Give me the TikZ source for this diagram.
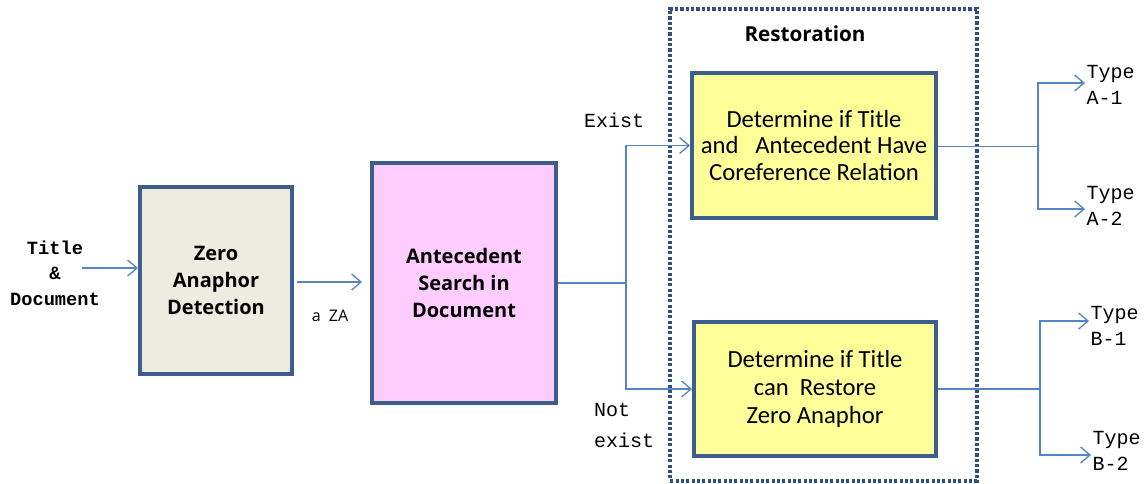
\documentclass[tikz,border=0pt]{standalone}
\usepackage{fontspec}
\setmainfont{Liberation Serif}
\newfontfamily\boxfont{Open Sans}
\newfontfamily\lightfont{Carlito}
\newfontfamily\monofont{Liberation Mono}
\usetikzlibrary{arrows.meta,positioning,calc}
\definecolor{bordercol}{HTML}{3B5E8C}
\definecolor{beige}{HTML}{EEECE1}
\definecolor{pinkfill}{HTML}{FFCCFF}
\definecolor{yellowfill}{HTML}{FFFF99}
\definecolor{arrowcol}{HTML}{5585C4}
\definecolor{framecol}{HTML}{2F4F7F}
\tikzset{
  procbox/.style={draw=bordercol, line width=3pt, align=center, inner sep=2pt},
  conn/.style={draw=arrowcol, line width=1pt},
  arr/.style={conn, -{Straight Barb[length=7pt,width=12pt,line width=1pt]}},
  monolbl/.style={font=\monofont\fontsize{15}{20}\selectfont, align=left, inner sep=1pt},
}
\begin{document}
\begin{tikzpicture}[x=0.75pt,y=-0.75pt]
\useasboundingbox (0,0) rectangle (1148,483);
% frame
\node[draw=framecol, line width=3pt, dash pattern=on 2.4pt off 1.6pt, minimum width=230pt, minimum height=354pt, inner sep=0pt] (frame) at (823.5,244.5) {};
\node[font=\boxfont\bfseries\fontsize{15.5}{18}\selectfont] (rest) at (805,34) {Restoration};
% boxes
\node[procbox, fill=beige, minimum width=114pt, minimum height=140pt, font=\boxfont\bfseries\fontsize{15}{20}\selectfont] (zad) at (216,280.5) {Zero\\Anaphor\\Detection};
\node[procbox, fill=pinkfill, minimum width=138pt, minimum height=180pt, font=\boxfont\bfseries\fontsize{15}{20}\selectfont] (ant) at (464,283) {Antecedent\\Search in\\Document};
\node[procbox, fill=yellowfill, minimum width=183pt, minimum height=108.75pt, font=\lightfont\fontsize{18.5}{20}\selectfont] (core) at (814,145.5) {Determine if Title\\and~~ Antecedent Have\\Coreference Relation};
\node[procbox, fill=yellowfill, minimum width=181.5pt, minimum height=100.5pt, font=\lightfont\fontsize{18.5}{21}\selectfont] (za) at (815,389) {Determine if Title\\can~~Restore\\Zero Anaphor};
% input
\node[font=\monofont\bfseries\fontsize{14}{19}\selectfont, align=center, inner sep=0pt] (input) at (55,273) {Title\\\&\\Document};
\coordinate (inarr) at (82,268);
\draw[arr] (inarr) -- (inarr -| zad.west);
% zad -> ant
\coordinate (za1) at (297,282);
\coordinate (za2) at (362,282);
\draw[arr] (za1) -- (za2);
\node[font=\boxfont\fontsize{12}{14}\selectfont] (aza) at (330,316) {a~ ZA};
% split
\coordinate (s1) at (626,283);
\draw[conn] (ant.east |- s1) -- (s1);
\draw[arr] (s1) |- (core.west);
\draw[arr] (s1) |- (za.west);
\node[monolbl] (exist) at (614,120) {Exist};
\node[monolbl] (not) at (612,410) {Not};
\node[monolbl] (notex) at (624,440) {exist};
% right A
\coordinate (s2) at (1038,146.5);
\node[monolbl, anchor=west] (ta1) at (1085,85) {Type\\A-1};
\node[monolbl, anchor=west] (ta2) at (1085,206) {Type\\A-2};
\draw[conn] (core.east |- s2) -- (s2);
\draw[arr] (s2) |- ($(ta1.west)+(0,-2)$);
\draw[arr] (s2) |- ($(ta2.west)+(0,3)$);
% right B
\coordinate (s3) at (1040,389);
\node[monolbl, anchor=west] (tb1) at (1089,326) {Type\\B-1};
\node[monolbl, anchor=west] (tb2) at (1091,451) {Type\\B-2};
\draw[conn] (za.east) -- (s3);
\draw[arr] (s3) |- ($(tb1.west)+(0,-5)$);
\draw[arr] (s3) |- ($(tb2.west)+(0,4)$);
\end{tikzpicture}
\end{document}
